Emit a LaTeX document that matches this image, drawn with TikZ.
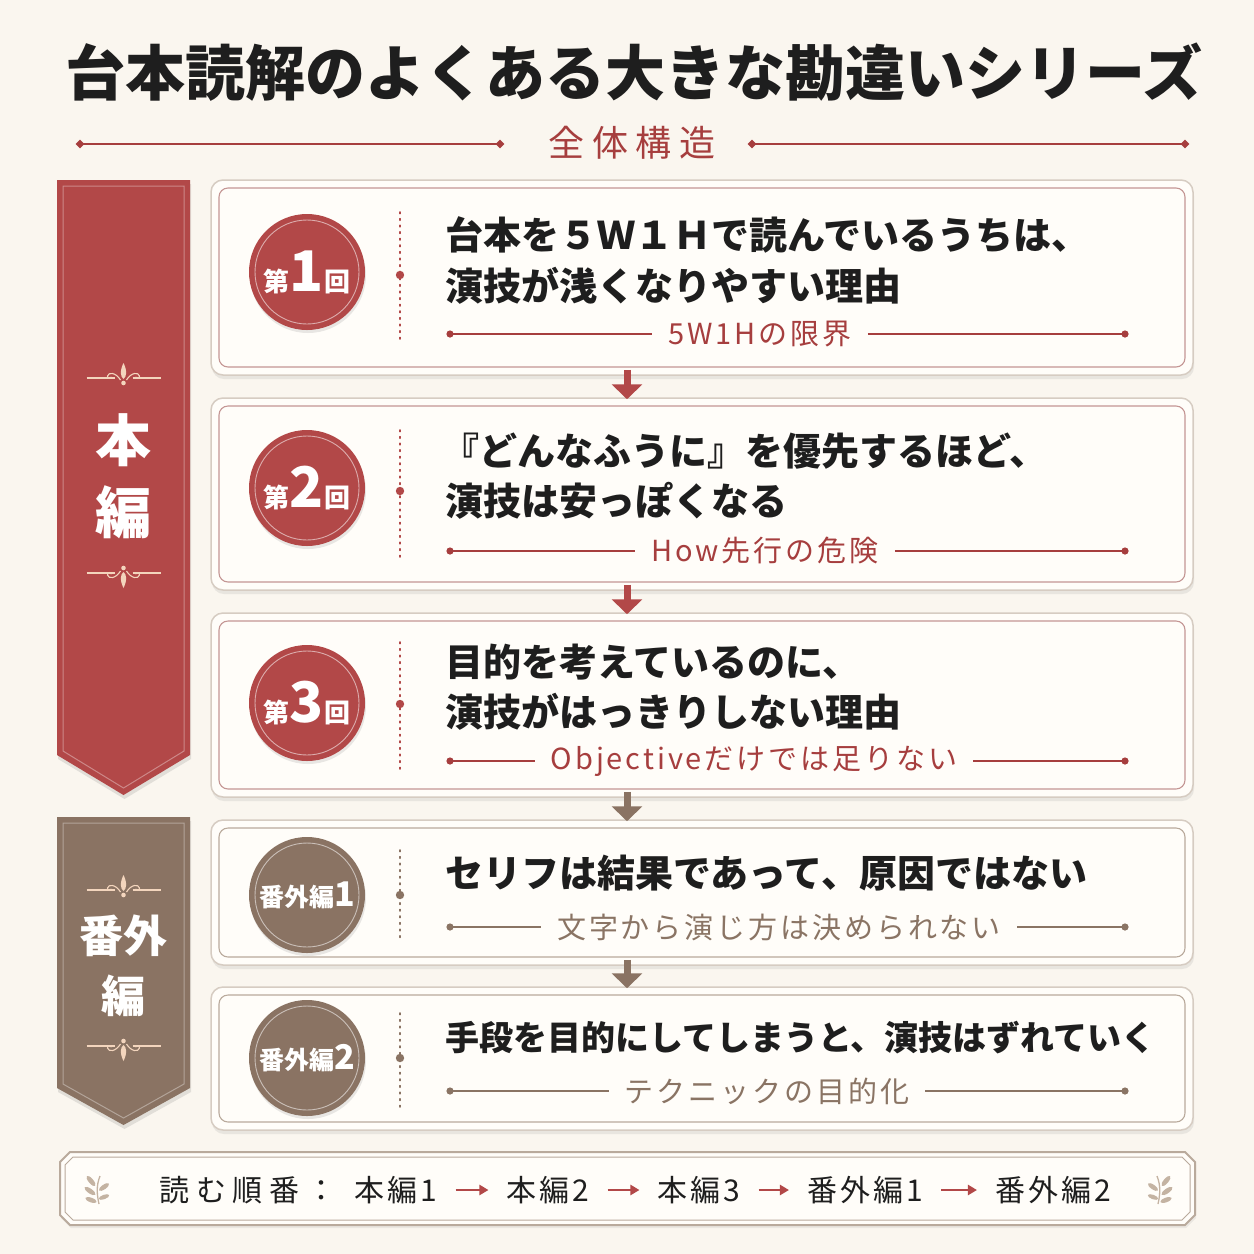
\documentclass[tikz,border=0pt]{standalone}
\usepackage{fontspec}
\setmainfont{Noto Sans CJK JP}
\newfontfamily\jpls[LetterSpace=10]{Noto Sans CJK JP}
\newfontfamily\jplsw[LetterSpace=22]{Noto Sans CJK JP}
\usetikzlibrary{arrows.meta,shadows,shapes.geometric,calc}
\definecolor{bg}{HTML}{FAF6EF}
\definecolor{rd}{HTML}{B24848}
\definecolor{rdtxt}{HTML}{A63E3E}
\definecolor{br}{HTML}{8A7363}
\definecolor{brtxt}{HTML}{8A7464}
\definecolor{ink}{HTML}{1E1E1E}
\definecolor{cardfill}{HTML}{FFFDF9}
\definecolor{cardline}{HTML}{D6CCC2}
\definecolor{rdline}{HTML}{C49694}
\definecolor{brline}{HTML}{B9AA9C}
\definecolor{orn}{HTML}{F3D5BD}
\definecolor{leafc}{HTML}{C4B3A2}
\newcommand\myfs[1]{\fontsize{#1}{#1}\selectfont}
\tikzset{
  cardout/.style={rectangle, rounded corners=12pt, draw=cardline, line width=1.5pt, fill=cardfill,
    minimum width=982pt, inner sep=0pt,
    drop shadow={opacity=0.14, shadow xshift=1pt, shadow yshift=-4pt}},
  cardin/.style={rectangle, rounded corners=9pt, line width=1.1pt, minimum width=966pt, inner sep=0pt},
  circ/.style={circle, minimum size=116pt, inner sep=0pt, text=white,
    drop shadow={opacity=0.18, shadow xshift=1pt, shadow yshift=-3pt}},
  maintxt/.style={anchor=west, text=ink, inner sep=0pt, font=\myfs{38}\bfseries},
  subtxt/.style={inner sep=0pt, font=\jpls\myfs{29}},
  dotv/.style={line width=1.6pt, dash pattern=on 1.6pt off 5pt, line cap=round},
  flowr/.style={rd, line width=7pt, -{Triangle[width=30pt,length=15pt]}, shorten <=-6pt, shorten >=-2pt},
  flowb/.style={br, line width=7pt, -{Triangle[width=30pt,length=15pt]}, shorten <=-6pt, shorten >=-2pt},
  ordarrow/.style={rd, line width=2.6pt, -{Triangle[width=10pt,length=9pt]}, shorten <=18pt, shorten >=18pt},
  ordtxt/.style={inner sep=0pt, text=ink, font=\jpls\myfs{30}},
  diam/.style={diamond, fill=rdtxt, inner sep=0pt, minimum size=9pt},
}
\newcommand\mkcard[4]{%
  \node[cardout, minimum height=#3] (#1) at (702,#2) {};
  \node[cardin, draw=#4, minimum height=#3-16] (#1i) at (#1.center) {};}
\newcommand\mkcirc[4]{%
  \node[circ, fill=#3] (#1) at (307,#2) {#4};
  \draw[white, opacity=0.55, line width=0.9pt] (#1.center) circle[radius=52pt];}
\newcommand\mkdots[4]{%
  \draw[dotv, #4] (400,#1) -- (400,#3);
  \fill[#4] (400,#2) circle[radius=4.2pt];}
\newcommand\mksub[5]{%
  \node[subtxt, text=#4] (#1) at (#2,#3) {#5};
  \coordinate (#1L) at (450,#3); \coordinate (#1R) at (1125,#3);
  \draw[#4, line width=1.2pt] (#1L) -- ([xshift=-16pt]#1.west);
  \draw[#4, line width=1.2pt] ([xshift=16pt]#1.east) -- (#1R);
  \fill[#4] (#1L) circle[radius=3.6pt]; \fill[#4] (#1R) circle[radius=3.6pt];}
\newcommand\mkorn[3]{%
  \begin{scope}[shift={(#1,#2)}, yscale=#3]
    \draw[orn, line width=1.2pt] (-37,0) -- (-9,0);
    \draw[orn, line width=1.2pt] (9,0) -- (37,0);
    \draw[orn, line width=1.1pt] (-3,2) .. controls (-8,-6) and (-15,-6) .. (-16,-2) .. controls (-16,1) and (-13,1) .. (-12,-1);
    \draw[orn, line width=1.1pt] (3,2) .. controls (8,-6) and (15,-6) .. (16,-2) .. controls (16,1) and (13,1) .. (12,-1);
    \fill[orn] (0,-15) .. controls (4,-7) and (3,-1) .. (0,1) .. controls (-3,-1) and (-4,-7) .. (0,-15);
    \fill[orn] (0,5) circle[radius=2.3pt];
  \end{scope}}
\newcommand\mkleaf[3]{%
  \begin{scope}[shift={(#1,#2)}, xscale=#3]
    \draw[leafc, line width=1.3pt] (2,14) .. controls (0,5) and (-1,-4) .. (3,-14);
    \fill[leafc] (-6,-9) ellipse[x radius=6.5pt, y radius=2.4pt, rotate=-50];
    \fill[leafc] (-7,1) ellipse[x radius=6.5pt, y radius=2.4pt, rotate=-35];
    \fill[leafc] (-6,10) ellipse[x radius=6pt, y radius=2.3pt, rotate=-20];
    \fill[leafc] (7,-3) ellipse[x radius=6pt, y radius=2.3pt, rotate=35];
    \fill[leafc] (7,7) ellipse[x radius=5.5pt, y radius=2.2pt, rotate=20];
  \end{scope}}
\begin{document}
\begin{tikzpicture}[x=1pt,y=-1pt]
\fill[bg] (0,0) rectangle (1254,1254);
\useasboundingbox (0,0) rectangle (1254,1254);

% title
\node[text=ink, inner sep=0pt, font=\myfs{60}\bfseries] (title) at (634,72) {台本読解のよくある大きな勘違いシリーズ};
\node[text=rdtxt, inner sep=0pt, font=\jplsw\myfs{36}] (sect) at (632,143) {全体構造};
\coordinate (dA) at (80,144); \coordinate (dB) at (500,144);
\coordinate (dC) at (752,144); \coordinate (dD) at (1185,144);
\draw[rdtxt, line width=1.2pt] (dA) -- (dB);
\draw[rdtxt, line width=1.2pt] (dC) -- (dD);
\foreach \p in {dA,dB,dC,dD} \node[diam] at (\p) {};

% banners
\path[fill=rd, drop shadow={opacity=0.2, shadow xshift=1pt, shadow yshift=-4pt}]
  (57,180) -- (190,180) -- (190,755) -- (123.5,795) -- (57,755) -- cycle;
\draw[white, opacity=0.35, line width=1pt] (63,186) -- (184,186) -- (184,751) -- (123.5,788) -- (63,751) -- cycle;
\node[text=white, inner sep=0pt, font=\myfs{56}\bfseries] (bA1) at (123.5,440) {本};
\node[text=white, inner sep=0pt, font=\myfs{56}\bfseries] (bA2) at (123.5,512) {編};
\mkorn{123.5}{378}{1}
\mkorn{123.5}{573}{-1}

\path[fill=br, drop shadow={opacity=0.2, shadow xshift=1pt, shadow yshift=-4pt}]
  (57,817) -- (190,817) -- (190,1088) -- (123.5,1125) -- (57,1088) -- cycle;
\draw[white, opacity=0.35, line width=1pt] (63,823) -- (184,823) -- (184,1084) -- (123.5,1118) -- (63,1084) -- cycle;
\node[text=white, inner sep=0pt, font=\myfs{44}\bfseries] (bB1) at (123.5,936) {番外};
\node[text=white, inner sep=0pt, font=\myfs{44}\bfseries] (bB2) at (123.5,996) {編};
\mkorn{123.5}{890}{1}
\mkorn{123.5}{1046}{-1}

% cards
\mkcard{c1}{277.5}{195}{rdline}
\mkcard{c2}{494}{192}{rdline}
\mkcard{c3}{705}{184}{rdline}
\mkcard{c4}{892.5}{145}{brline}
\mkcard{c5}{1058.5}{143}{brline}

% circles
\mkcirc{n1}{272}{rd}{{\myfs{26}\bfseries 第}{\myfs{56}\bfseries 1}{\myfs{26}\bfseries 回}}
\mkcirc{n2}{488}{rd}{{\myfs{26}\bfseries 第}{\myfs{56}\bfseries 2}{\myfs{26}\bfseries 回}}
\mkcirc{n3}{703}{rd}{{\myfs{26}\bfseries 第}{\myfs{56}\bfseries 3}{\myfs{26}\bfseries 回}}
\mkcirc{n4}{895}{br}{{\myfs{25}\bfseries 番外編}{\myfs{34}\bfseries 1}}
\mkcirc{n5}{1058}{br}{{\myfs{25}\bfseries 番外編}{\myfs{34}\bfseries 2}}

% dotted separators
\mkdots{212}{275}{340}{rd}
\mkdots{430}{491}{560}{rd}
\mkdots{642}{704}{770}{rd}
\mkdots{850}{895}{942}{br}
\mkdots{1013}{1058}{1107}{br}

% main texts
\node[maintxt] (t1a) at (445,235) {台本を５Ｗ１Ｈで読んでいるうちは、};
\node[maintxt] (t1b) at (445,286) {演技が浅くなりやすい理由};
\node[maintxt] (t2a) at (441,451) {『どんなふうに』を優先するほど、};
\node[maintxt] (t2b) at (445,501) {演技は安っぽくなる};
\node[maintxt] (t3a) at (445,662) {目的を考えているのに、};
\node[maintxt] (t3b) at (445,712) {演技がはっきりしない理由};
\node[maintxt] (t4a) at (445,873) {セリフは結果であって、原因ではない};
\node[maintxt, font=\myfs{34}\bfseries] (t5a) at (445,1038) {手段を目的にしてしまうと、演技はずれていく};

% sub labels
\mksub{s1}{760}{334}{rdtxt}{5W1Hの限界}
\mksub{s2}{765}{551}{rdtxt}{How先行の危険}
\mksub{s3}{754}{761}{rdtxt}{Objectiveだけでは足りない}
\mksub{s4}{779}{927}{brtxt}{文字から演じ方は決められない}
\mksub{s5}{767}{1091}{brtxt}{テクニックの目的化}

% flow arrows
\draw[flowr] ([xshift=-75pt]c1.south) -- ([xshift=-75pt]c2.north);
\draw[flowr] ([xshift=-75pt]c2.south) -- ([xshift=-75pt]c3.north);
\draw[flowb] ([xshift=-75pt]c3.south) -- ([xshift=-75pt]c4.north);
\draw[flowb] ([xshift=-75pt]c4.south) -- ([xshift=-75pt]c5.north);

% reading order bar
\path[fill=cardfill, draw=brline, line width=2pt, drop shadow={opacity=0.12, shadow xshift=1pt, shadow yshift=-3pt}]
  (70,1152) -- (1185,1152) -- (1195,1162) -- (1195,1215) -- (1185,1225) -- (70,1225) -- (60,1215) -- (60,1162) -- cycle;
\draw[brline, line width=1pt] (73,1157) -- (1182,1157) -- (1190,1165) -- (1190,1212) -- (1182,1220) -- (73,1220) -- (65,1212) -- (65,1165) -- cycle;
\node[ordtxt, font=\jplsw\myfs{30}] (o0) at (248,1190) {読む順番：};
\node[ordtxt] (o1) at (396,1190) {本編1};
\node[ordtxt] (o2) at (548,1190) {本編2};
\node[ordtxt] (o3) at (699,1190) {本編3};
\node[ordtxt] (o4) at (865,1190) {番外編1};
\node[ordtxt] (o5) at (1053,1190) {番外編2};
\draw[ordarrow] (o1) -- (o2);
\draw[ordarrow] (o2) -- (o3);
\draw[ordarrow] (o3) -- (o4);
\draw[ordarrow] (o4) -- (o5);
\mkleaf{97}{1190}{1}
\mkleaf{1160}{1190}{-1}
\end{tikzpicture}
\end{document}
